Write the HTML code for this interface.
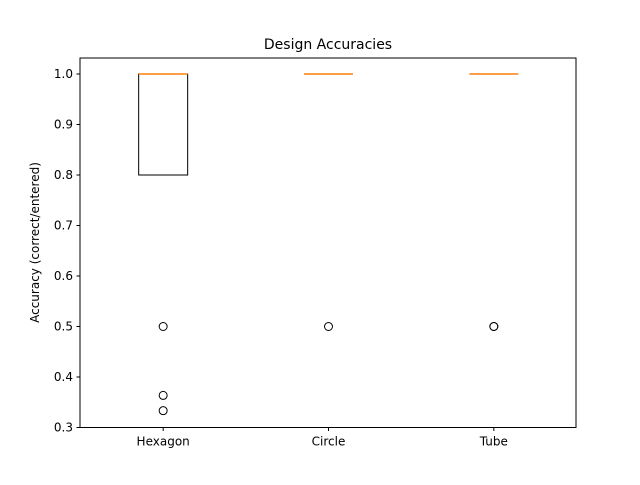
<!DOCTYPE html>
<html><head><meta charset="utf-8"><style>
body{margin:0;background:#fff}
svg text{font-family:"DejaVu Sans","Liberation Sans",sans-serif;}
</style></head><body>
<svg id="c" width="640" height="480" xmlns="http://www.w3.org/2000/svg">
<rect width="640" height="480" fill="#fff"/>
<text x="328" y="49" font-size="14" text-anchor="middle">Design Accuracies</text>
<text transform="translate(39,242.5) rotate(-90)" font-size="12" text-anchor="middle">Accuracy (correct/entered)</text>
</svg>
<script>
const categories=["Hexagon","Circle","Tube"];
const q1=[0.8,1.0,1.0];
const q3=[1.0,1.0,1.0];
const medians=[1.0,1.0,1.0];
const whiskLo=[0.8,1.0,1.0];
const whiskHi=[1.0,1.0,1.0];
const outliers=[[0.5,0.3636,0.3333],[0.5],[0.5,0.5]];
const yTicks=[0.3,0.4,0.5,0.6,0.7,0.8,0.9,1.0];
const yTickLabels=["0.3","0.4","0.5","0.6","0.7","0.8","0.9","1.0"];

const L=80,R=576,T=58,B=427.5,ymin=0.3,ymax=1.0317;
const svg=document.getElementById('c');const NS="http://www.w3.org/2000/svg";
function y(v){return B-(v-ymin)/(ymax-ymin)*(B-T);}
function x(i){return L+(i+0.5)*(R-L)/categories.length+0.5;}
function el(t,a,p){const e=document.createElementNS(NS,t);for(const k in a)e.setAttribute(k,a[k]);(p||svg).appendChild(e);return e;}
const hw=24.5;
categories.forEach((c,i)=>{
 const g=el('g',{});
 
 
 const cx=x(i);
 el('rect',{x:cx-hw,y:y(q3[i]),width:2*hw,height:y(q1[i])-y(q3[i]),fill:'none',stroke:'#000','stroke-width':1},g);
 el('line',{x1:cx,x2:cx,y1:y(q1[i]),y2:y(whiskLo[i]),stroke:'#000'},g);
 el('line',{x1:cx,x2:cx,y1:y(q3[i]),y2:y(whiskHi[i]),stroke:'#000'},g);
 el('line',{x1:cx-hw/2,x2:cx+hw/2,y1:y(whiskLo[i]),y2:y(whiskLo[i]),stroke:'#000'},g);
 el('line',{x1:cx-hw/2,x2:cx+hw/2,y1:y(whiskHi[i]),y2:y(whiskHi[i]),stroke:'#000'},g);
 el('line',{x1:cx-hw,x2:cx+hw,y1:y(medians[i]),y2:y(medians[i]),stroke:'#ff7f0e','stroke-width':1.5},g);
 outliers[i].forEach(v=>{const o=el('circle',{cx:cx,cy:y(v),r:4,fill:'none',stroke:'#000'},g);
  
  });
 el('line',{x1:cx,x2:cx,y1:B,y2:B+3.5,stroke:'#000'});
 const t=el('text',{x:cx,y:B+18,'font-size':12,'text-anchor':'middle'});
 
 
 t.textContent=c;
});
yTicks.forEach((v,i)=>{
 el('line',{x1:L-3.5,x2:L,y1:y(v),y2:y(v),stroke:'#000'});
 const t=el('text',{x:L-7,y:y(v)+4,'font-size':12,'text-anchor':'end'});
 
 
 t.textContent=yTickLabels[i];
});
const f=el('rect',{x:L,y:T,width:R-L,height:B-T,fill:'none',stroke:'#000','stroke-width':1});


</script>
</body></html>
